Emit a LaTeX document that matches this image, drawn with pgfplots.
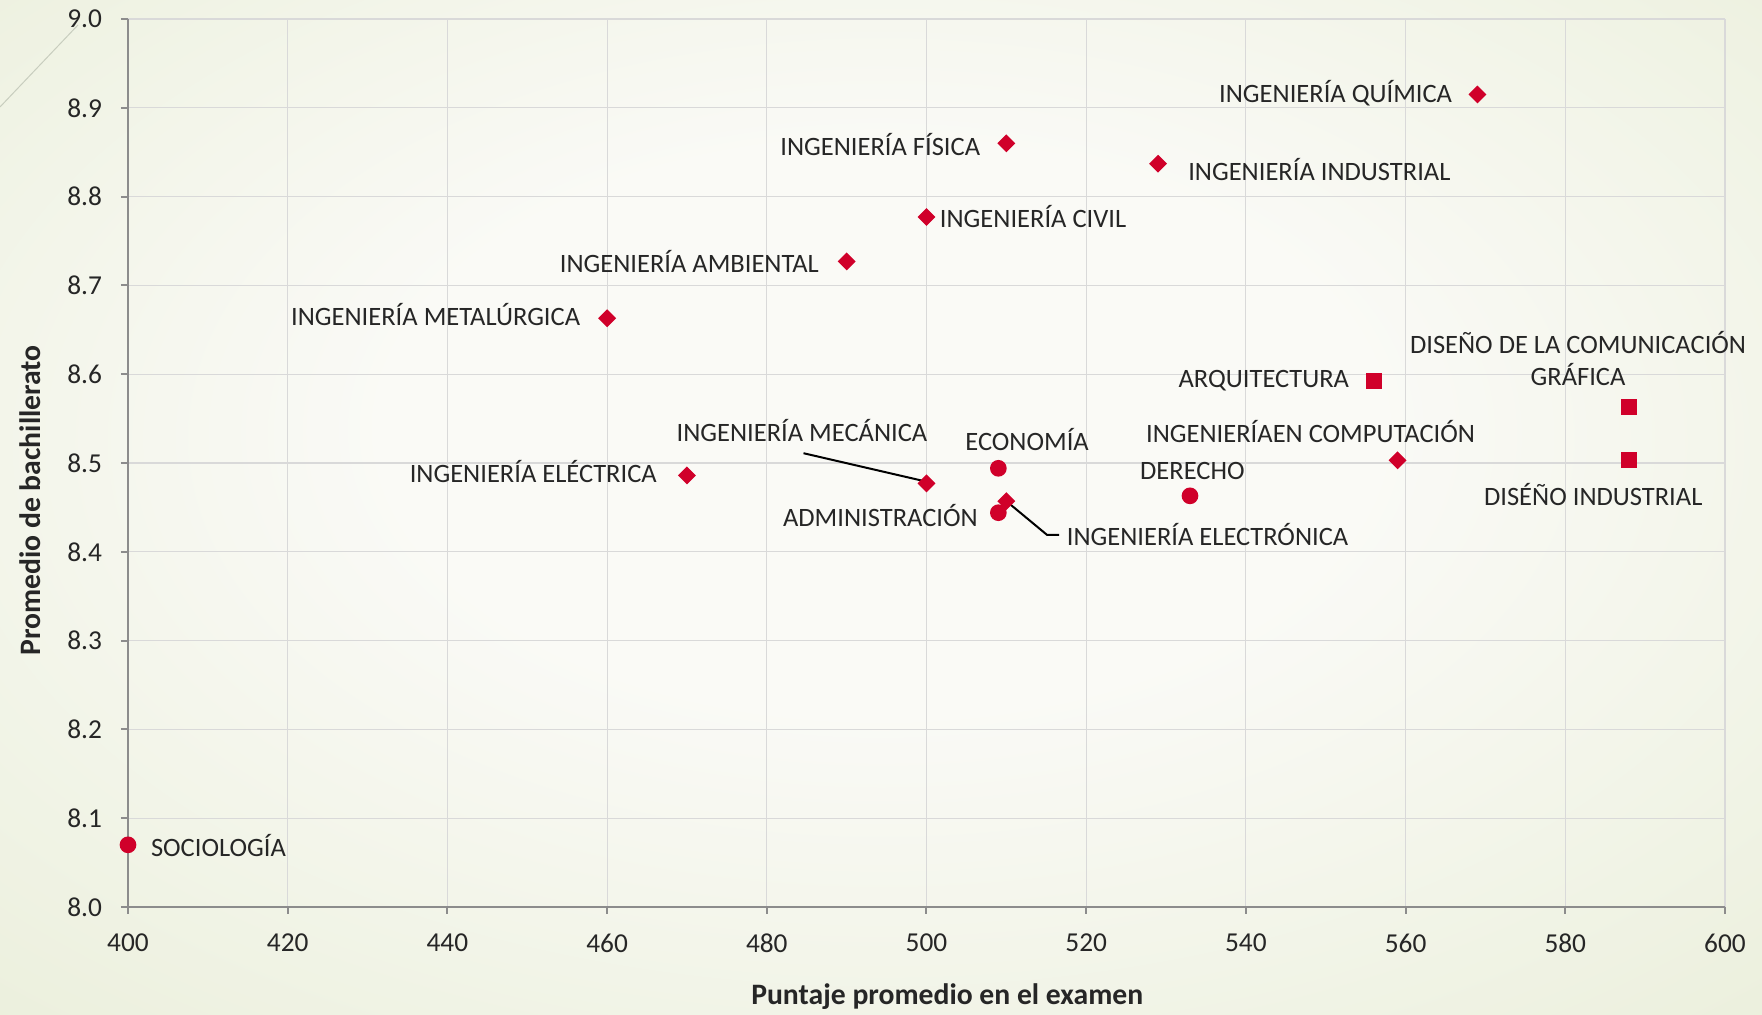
\documentclass[border=0pt]{standalone}
\usepackage{fontspec}
\setmainfont{Carlito}
\usepackage{pgfplots}
\pgfplotsset{compat=1.18}

\definecolor{mk}{RGB}{208,0,42}
\definecolor{txt}{RGB}{38,38,38}
\definecolor{axgray}{RGB}{140,140,140}
\definecolor{gridgray}{RGB}{217,217,217}
\definecolor{bgin}{RGB}{250,250,246}
\definecolor{bgout}{RGB}{219,228,192}
\pgfdeclareradialshading{bgshade}{\pgfpoint{0bp}{5bp}}{color(0bp)=(bgin); color(14bp)=(bgin); color(64bp)=(bgout)}

\begin{document}
\begin{tikzpicture}[font=\fontsize{7.95}{9.5}\selectfont]
\useasboundingbox (0,0) rectangle (528.6pt,304.5pt);
\shade[shading=bgshade] (0,0) rectangle (528.6pt,304.5pt);
\draw[color={rgb,255:red,200;green,205;blue,190}, line width=0.3pt] (0,272.4pt) -- (23.4pt,297pt);
\begin{axis}[
    at={(38.4pt,32.4pt)}, anchor=south west,
    scale only axis, width=479.1pt, height=266.4pt,
    xmin=400, xmax=600, ymin=8.0, ymax=9.0,
    xtick={400,420,...,600},
    ytick={8.0,8.1,8.2,8.3,8.4,8.5,8.6,8.7,8.8,8.9,9.0},
    yticklabel style={/pgf/number format/fixed, /pgf/number format/fixed zerofill, /pgf/number format/precision=1, xshift=-2.2pt},
    /pgf/number format/assume math mode=true,
    axis lines*=left,
    axis line style={axgray, line width=0.6pt, -},
    tick align=outside, major tick length=2.1pt,
    tick style={axgray, line width=0.6pt},
    grid=major, grid style={gridgray, line width=0.35pt},
    ticklabel style={txt, font=\fontsize{8.2}{9.8}\selectfont},
    xticklabel style={yshift=-2.4pt},
    every axis x label/.style={at={(axis description cs:0.513,0)}, anchor=center, yshift=-27pt},
    every axis y label/.style={at={(axis description cs:-0.0614,0.458)}, anchor=center, rotate=90},
    xlabel={\textbf{Puntaje promedio en el examen}},
    ylabel={\textbf{Promedio de bachillerato}},
    label style={txt, font=\fontsize{8.9}{10.5}\selectfont},
    clip=false,
]
% ingenierias (rombos)
\addplot[only marks, mark=square*, mark size=1.7pt, mark options={rotate=45, fill=mk, draw=mk}, color=mk] coordinates {
    (569, 8.915) (510, 8.860) (529, 8.837) (500, 8.777) (490, 8.727)
    (460, 8.663) (559, 8.503) (500, 8.477) (470, 8.486) (510, 8.457)
};
% circulos
\addplot[only marks, mark=*, mark size=2.3pt, mark options={fill=mk, draw=mk}, color=mk] coordinates {
    (509, 8.494) (509, 8.444) (533, 8.463) (400, 8.070)
};
% cuadrados
\addplot[only marks, mark=square*, mark size=2.2pt, mark options={fill=mk, draw=mk}, color=mk] coordinates {
    (556, 8.592) (588, 8.563) (588, 8.503)
};
% lineas guia
\draw[black, line width=0.6pt] (axis cs:484.6,8.511) -- (axis cs:499.5,8.480);
\draw[black, line width=0.6pt] (axis cs:510,8.457) -- (axis cs:515.1,8.419) -- (axis cs:516.6,8.419);
% etiquetas
\begin{scope}[every node/.style={txt, inner sep=0pt, yshift=0.5pt}]
\node[anchor=east] at (axis cs:565.9,8.915) {INGENIERÍA QUÍMICA};
\node[anchor=east] at (axis cs:506.8,8.857) {INGENIERÍA FÍSICA};
\node[anchor=west] at (axis cs:532.7,8.829) {INGENIERÍA INDUSTRIAL};
\node[anchor=west] at (axis cs:501.6,8.776) {INGENIERÍA CIVIL};
\node[anchor=east] at (axis cs:486.6,8.725) {INGENIERÍA AMBIENTAL};
\node[anchor=east] at (axis cs:456.7,8.665) {INGENIERÍA METALÚRGICA};
\node[align=center] at (axis cs:581.6,8.616) {DISEÑO DE LA COMUNICACIÓN\\GRÁFICA};
\node[anchor=east] at (axis cs:553.0,8.591) {ARQUITECTURA};
\node at (axis cs:548.1,8.534) {INGENIERÍAEN COMPUTACIÓN};
\node at (axis cs:512.6,8.524) {ECONOMÍA};
\node at (axis cs:533.3,8.489) {DERECHO};
\node at (axis cs:583.5,8.463) {DISÉÑO INDUSTRIAL};
\node at (axis cs:484.4,8.535) {INGENIERÍA MECÁNICA};
\node[anchor=east] at (axis cs:466.3,8.489) {INGENIERÍA ELÉCTRICA};
\node[anchor=east] at (axis cs:506.5,8.439) {ADMINISTRACIÓN};
\node[anchor=west] at (axis cs:517.5,8.418) {INGENIERÍA ELECTRÓNICA};
\node[anchor=west] at (axis cs:402.8,8.067) {SOCIOLOGÍA};
\end{scope}
\end{axis}
\end{tikzpicture}
\end{document}
